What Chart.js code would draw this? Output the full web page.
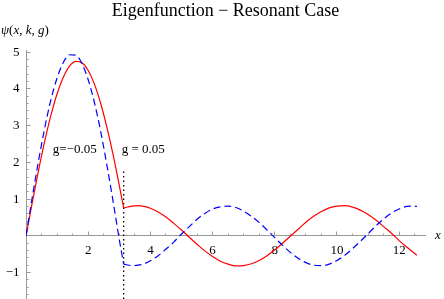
<!DOCTYPE html>
<html>
<head>
<meta charset="utf-8">
<script src="https://cdn.jsdelivr.net/npm/chart.js@4.4.1/dist/chart.umd.min.js"></script>
<style>
  html, body { margin: 0; padding: 0; background: #fff; }
  #wrap { width: 444px; height: 299px; }
</style>
</head>
<body>
<div id="wrap"><canvas id="chart" width="444" height="299"></canvas></div>
<script>
// x samples left and right of the barrier at x = pi
const leftX = [0, 0.2, 0.4, 0.6, 0.8, 1.0, 1.2, 1.4, 1.6, 1.8, 2.0, 2.2, 2.4, 2.6, 2.8, 3.0, 3.14];
const rightX = [3.14, 3.4, 3.6, 3.8, 4.0, 4.25, 4.5, 4.75, 5.0, 5.25, 5.5, 5.75, 6.0, 6.25, 6.5, 6.75,
  7.0, 7.25, 7.5, 7.75, 8.0, 8.25, 8.5, 8.75, 9.0, 9.25, 9.5, 9.75, 10.0, 10.25, 10.5, 10.75,
  11.0, 11.25, 11.5, 11.75, 12.0, 12.25, 12.5, 12.57];

// g = 0.05 (red, solid)
const redLeft = [0, 0.90, 1.77, 2.57, 3.28, 3.87, 4.32, 4.62, 4.75, 4.71, 4.50, 4.13, 3.61, 2.96, 2.21, 1.37, 0.76];
const redRight = [0.76, 0.81, 0.82, 0.80, 0.75, 0.65, 0.51, 0.34, 0.16, -0.04, -0.23, -0.41, -0.56, -0.69, -0.77, -0.82,
  -0.81, -0.76, -0.67, -0.54, -0.38, -0.20, -0.01, 0.18, 0.37, 0.53, 0.66, 0.76, 0.81, 0.82, 0.78, 0.70,
  0.58, 0.43, 0.25, 0.07, -0.13, -0.31, -0.48, -0.53];

// g = -0.05 (blue, dashed)
const blueLeft = [0, 1.04, 2.03, 2.93, 3.70, 4.30, 4.72, 4.93, 4.92, 4.69, 4.25, 3.63, 2.85, 1.93, 0.94, -0.10, -0.77];
const blueRight = [-0.77, -0.81, -0.80, -0.76, -0.68, -0.54, -0.36, -0.17, 0.05, 0.25, 0.45, 0.61, 0.73, 0.79, 0.81, 0.77,
  0.67, 0.53, 0.36, 0.16, -0.05, -0.26, -0.45, -0.61, -0.73, -0.80, -0.81, -0.77, -0.67, -0.53, -0.35, -0.15,
  0.06, 0.27, 0.46, 0.62, 0.73, 0.80, 0.81, 0.80];

// dotted marker at the barrier
const barrierX = [3.14, 3.14];
const barrierY = [-1.72, 1.79];

const xRange = [0, 12.83];
const yRange = [-1.72, 5.06];

const titleText = 'Eigenfunction \u2212 Resonant Case';
// [text, x, y] in data units
const notes = [
  ['g=\u22120.05', 0.86, 2.26],
  ['g = 0.05', 3.08, 2.26]
];
// [text, italic]
const yLabelParts = [['\u03C8', true], ['(', false], ['x', true], [', ', false], ['k', true], [', ', false], ['g', true], [')', false]];

const SERIF = '"Liberation Serif", "Times New Roman", serif';
const AXIS_GRAY = '#999999';

function pts(xs, ys) {
  return xs.map((x, i) => ({ x: x, y: ys[i] }));
}

function fmtX(v) {
  return v === 0 ? '' : String(v);
}

// object-positioned y labels sit right on the axis, so pad with spaces
function fmtY(v) {
  if (v === 0) return '';
  return (v < 0 ? '\u2212' + Math.abs(v) : String(v)) + '  ';
}

// axes cross inside the plot, they should not reserve any room
function noPad(scale) {
  scale.paddingTop = 0;
  scale.paddingBottom = 0;
  scale.paddingLeft = 0;
  scale.paddingRight = 0;
}

const textPlugin = {
  id: 'texts',
  afterDraw(chart) {
    const ctx = chart.ctx;
    const x = chart.scales.x;
    const y = chart.scales.y;
    ctx.save();
    ctx.fillStyle = '#000';
    ctx.textBaseline = 'alphabetic';
    ctx.textAlign = 'left';

    ctx.font = '13px ' + SERIF;
    notes.forEach(([t, nx, ny]) => {
        ctx.fillText(t, x.getPixelForValue(nx), y.getPixelForValue(ny));
    });

    // y axis label, top left
    let px = 1;
    yLabelParts.forEach(([t, italic]) => {
        ctx.font = (italic ? 'italic ' : '') + '13px ' + SERIF;
        ctx.fillText(t, px, 34);
        px += ctx.measureText(t).width;
    });

    // x axis label
    ctx.font = 'italic 13px ' + SERIF;
    ctx.textBaseline = 'middle';
    ctx.fillText('x', 435, y.getPixelForValue(0));
    ctx.restore();
  }
};

const tickFont = { family: SERIF, size: 13 };

new Chart(document.getElementById('chart'), {
  type: 'scatter',
  data: {
    datasets: [
      {
        data: pts(leftX, blueLeft),
        borderColor: '#0000ff', borderWidth: 1.2, borderDash: [7, 4]
      },
      {
        data: pts(rightX, blueRight),
        borderColor: '#0000ff', borderWidth: 1.2, borderDash: [7, 4]
      },
      {
        data: pts(leftX, redLeft),
        borderColor: '#ff0000', borderWidth: 1.2
      },
      {
        data: pts(rightX, redRight),
        borderColor: '#ff0000', borderWidth: 1.2
      },
      {
        data: pts(barrierX, barrierY),
        borderColor: '#000000', borderWidth: 1.3, borderDash: [1.5, 3],
        cubicInterpolationMode: 'default', tension: 0
      }
    ]
  },
  options: {
    responsive: false,
    animation: false,
    showLine: true,
    elements: {
      point: { radius: 0, hoverRadius: 0 },
      line: { cubicInterpolationMode: 'monotone', fill: false }
    },
    layout: { padding: { left: 26, right: 19, top: 0, bottom: 0 } },
    plugins: {
      legend: { display: false },
      tooltip: { enabled: false },
      title: {
        display: true,
        text: titleText,
        color: '#000',
        font: { family: SERIF, size: 18, weight: 'normal' },
        padding: { top: 0, bottom: 28.4 }
      }
    },
    scales: {
      x: {
        type: 'linear',
        min: xRange[0], max: xRange[1],
        position: { y: 0 },
        border: { color: AXIS_GRAY, width: 1 },
        grid: { drawOnChartArea: false, color: AXIS_GRAY, tickLength: -4.5 },
        ticks: { stepSize: 2, includeBounds: false, padding: 11, color: '#000', font: tickFont, callback: fmtX },
        afterFit: noPad
      },
      xMinor: {
        type: 'linear',
        min: xRange[0], max: xRange[1],
        position: { y: 0 },
        border: { display: false },
        grid: { drawOnChartArea: false, color: AXIS_GRAY, tickLength: -2.5 },
        ticks: { stepSize: 0.5, includeBounds: false, display: false },
        afterFit: noPad
      },
      y: {
        type: 'linear',
        min: yRange[0], max: yRange[1],
        position: { x: 0 },
        border: { color: AXIS_GRAY, width: 1 },
        grid: { drawOnChartArea: false, color: AXIS_GRAY, tickLength: -4.5 },
        ticks: { stepSize: 1, includeBounds: false, padding: 0, color: '#000', font: tickFont, callback: fmtY },
        afterFit: noPad
      },
      yMinor: {
        type: 'linear',
        min: yRange[0], max: yRange[1],
        position: { x: 0 },
        border: { display: false },
        grid: { drawOnChartArea: false, color: AXIS_GRAY, tickLength: -2.5 },
        ticks: { stepSize: 0.2, includeBounds: false, display: false },
        afterFit: noPad
      }
    }
  },
  plugins: [textPlugin]
});
</script>
</body>
</html>
